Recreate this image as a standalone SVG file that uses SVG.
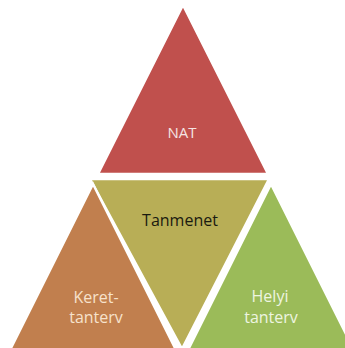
<svg xmlns="http://www.w3.org/2000/svg" width="345" height="348" viewBox="0 0 345 348">
<style>
.tri{stroke:#ffffff;stroke-width:2.5;stroke-linejoin:miter}
.lbl{font-family:"Open Sans","Liberation Sans",sans-serif;text-anchor:middle}
</style>
<rect width="345" height="348" fill="#ffffff"/>
<g id="nat">
<polygon class="tri" points="183,5 98,174 268,174" fill="#C0504D"/>
<text class="lbl" x="182" y="138" font-size="15" fill="#F5E4E3">NAT</text>
</g>
<g id="tanmenet">
<polygon class="tri" points="90,179 269,179 182,349" fill="#B8AE56"/>
<text class="lbl" x="180" y="226" font-size="16" fill="#1a1a10">Tanmenet</text>
</g>
<g id="kerettanterv">
<polygon class="tri" points="93,184 9,352 177,352" fill="#C17F4E"/>
<text class="lbl" x="96" y="303" font-size="16" fill="#F7E2CC">Keret-</text>
<text class="lbl" x="96" y="323" font-size="16" fill="#F7E2CC">tanterv</text>
</g>
<g id="helyitanterv">
<polygon class="tri" points="271,184 187,352 355,352" fill="#9BBB59"/>
<text class="lbl" x="270" y="302" font-size="16" fill="#EEF5E0">Helyi</text>
<text class="lbl" x="271" y="323" font-size="16" fill="#EEF5E0">tanterv</text>
</g>
<g id="connectors"></g>
</svg>
